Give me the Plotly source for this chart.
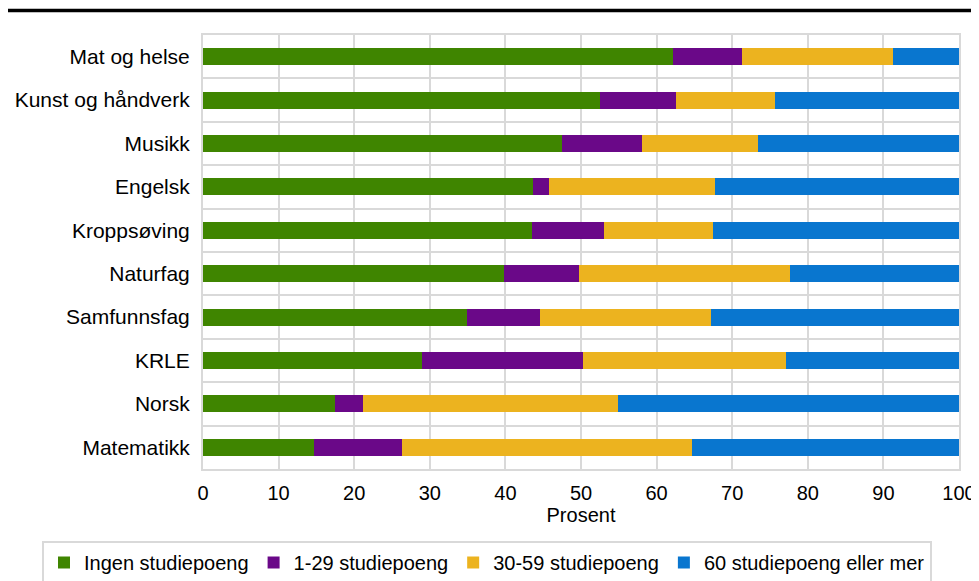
import plotly.graph_objects as go

categories = ["Mat og helse", "Kunst og håndverk", "Musikk", "Engelsk", "Kroppsøving",
              "Naturfag", "Samfunnsfag", "KRLE", "Norsk", "Matematikk"]
series_names = ["Ingen studiepoeng", "1-29 studiepoeng", "30-59 studiepoeng", "60 studiepoeng eller mer"]
ingen = [62.2, 52.5, 47.5, 43.6, 43.5, 39.8, 34.9, 29.0, 17.4, 14.7]
sp_1_29 = [9.1, 10.1, 10.6, 2.2, 9.6, 10.0, 9.7, 21.3, 3.8, 11.6]
sp_30_59 = [20.0, 13.0, 15.3, 21.9, 14.4, 27.9, 22.6, 26.8, 33.7, 38.4]
sp_60 = [8.7, 24.4, 26.6, 32.3, 32.5, 22.3, 32.8, 22.9, 45.1, 35.3]
x_ticks = [0, 10, 20, 30, 40, 50, 60, 70, 80, 90, 100]

colors = ["#3f8500", "#6a0888", "#ecb31f", "#0976cf"]
font = "Liberation Sans, Arial, sans-serif"

W, H = 971, 573
L, T, PW, PH = 195, 27, 756, 434

fig = go.Figure()
for name, vals, col in zip(series_names, [ingen, sp_1_29, sp_30_59, sp_60], colors):
    fig.add_trace(go.Bar(
        y=categories, x=vals, name=name, orientation="h",
        marker=dict(color=col, line=dict(width=0)),
    ))

fig.update_layout(
    width=W, height=H,
    barmode="stack", bargap=0.61,
    plot_bgcolor="white", paper_bgcolor="white",
    margin=dict(l=L, r=W - L - PW, t=T, b=H - T - PH, autoexpand=False),
    font=dict(family=font, size=20, color="#000000"),
    showlegend=True,
    legend=dict(orientation="h", traceorder="normal",
                x=(34 - L) / PW, xanchor="left",
                y=(T + PH - 533) / PH, yanchor="top",
                bordercolor="#d9d9d9", borderwidth=2,
                font=dict(size=20), itemwidth=30, tracegroupgap=0),
    xaxis=dict(range=[0, 100], tickvals=x_ticks, showgrid=True, gridcolor="#d9d9d9", gridwidth=2,
               zeroline=False, showline=True, linecolor="#d9d9d9", linewidth=2, mirror=True,
               ticks="", tickfont=dict(size=20), ticklabelstandoff=5,
               title=dict(text="Prosent", font=dict(size=20), standoff=0)),
    yaxis=dict(categoryorder="array", categoryarray=categories[::-1], tickson="boundaries",
               showgrid=True, gridcolor="#d9d9d9", gridwidth=2, ticks="", ticklen=0,
               showline=True, linecolor="#d9d9d9", linewidth=2, mirror=True,
               tickfont=dict(size=21), ticklabelstandoff=7),
)

fig.add_shape(type="line", xref="paper", yref="paper", x0=(-3 - L) / PW, x1=(W - L) / PW,
              y0=1 + 24.5 / PH, y1=1 + 24.5 / PH, line=dict(color="black", width=3.5))

fig.write_html("out.html")
